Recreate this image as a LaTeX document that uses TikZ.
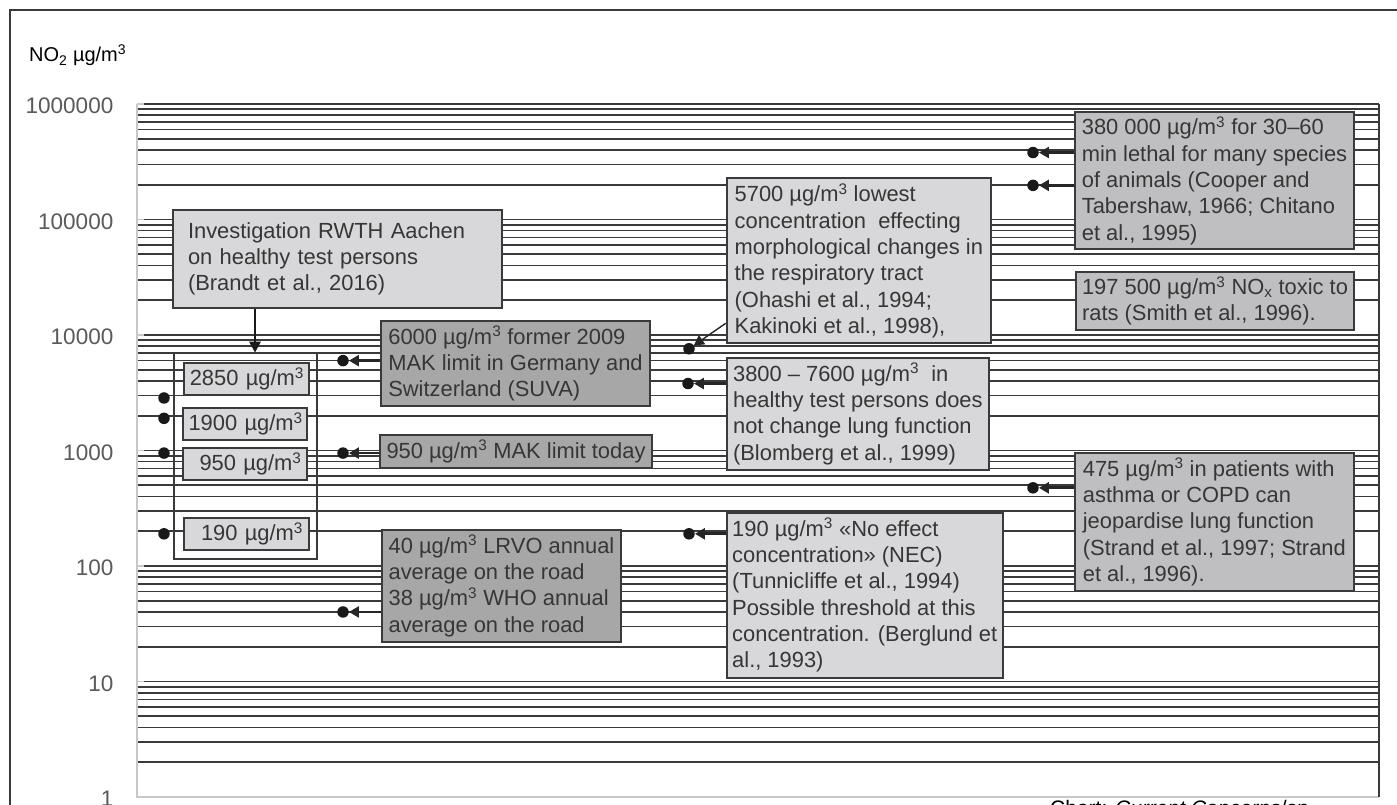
\documentclass[tikz,border=0pt]{standalone}
\usepackage{fontspec}
\setmainfont{Liberation Sans}
\usetikzlibrary{arrows.meta}
\definecolor{boxlight}{HTML}{D8D8DA}
\definecolor{boxmid}{HTML}{BFBFC1}
\definecolor{boxdark}{HTML}{A7A7A7}
\definecolor{ink}{HTML}{363636}
\definecolor{rule}{HTML}{3A3A3A}
\definecolor{axisgray}{HTML}{C8C8C8}
\definecolor{ticktext}{HTML}{5A5A5A}
\newcommand\ugm{µg/m\textsuperscript{3}}
\newcommand\boxfont{\fontsize{21.9}{26.3}\selectfont}
\newcommand\tickfont{\fontsize{22.5}{26}\selectfont}
\tikzset{
  gridrule/.style={draw=rule, line width=1.6},
  axisrule/.style={draw=axisgray, line width=1.6},
  note/.style={draw=rule, line width=2, inner sep=0, align=left, anchor=north west, text=ink, font=\boxfont},
  lightbox/.style={note, fill=boxlight},
  midbox/.style={note, fill=boxmid},
  darkbox/.style={note, fill=boxdark},
  reading/.style={lightbox, align=right},
  grouprect/.style={draw=rule, line width=1.5, inner sep=0, anchor=north west},
  dot/.style={circle, fill=black!90, inner sep=0, minimum size=11.5},
  link/.style={draw=black!85, line width=2.8, -{Triangle[length=10pt,width=11pt]}},
  feed/.style={draw=black!90, line width=2.8, -{Triangle[length=11pt,width=11pt]}},
  tick/.style={anchor=east, inner sep=0, text=ticktext, font=\tickfont, yshift=-2pt},
}
\begin{document}
\begin{tikzpicture}[x=1pt, y=-1pt, declare function={lv(\p,\q)=797-115.5*(\q+log10(\p));}]
\useasboundingbox (0,0) rectangle (1397,805);
\clip (0,0) rectangle (1397,805);
\fill[white] (0,0) rectangle (1397,805);
\draw[draw=rule, line width=2] (9.5,840) -- (9.5,10) -- (1420,10);

\foreach \e in {0,...,5}{
  \foreach \k in {2,...,9}{
    \draw[gridrule] (137,{lv(\k,\e)}) -- (1379,{lv(\k,\e)});
  }
}
\foreach \e in {1,...,6}{
  \draw[axisrule] (137,{lv(1,\e)}) -- (144,{lv(1,\e)});
  \draw[gridrule] (144,{lv(1,\e)}) -- (1379,{lv(1,\e)});
}
\draw[axisrule] (137,{lv(1,6)}) -- (137,{lv(1,0)}) -- (1379,{lv(1,0)});
\draw[gridrule] (1379,{lv(1,6)}) -- (1379,{lv(1,0)});
\foreach \e/\lab in {0/1,1/10,2/100,3/1000,4/10000,5/100000,6/1000000}
  \node[tick] (y\e) at (113.5,{lv(1,\e)}) {\lab};
\node[anchor=base west, inner sep=0, font=\fontsize{20}{23}\selectfont] (unit) at (29,62) {NO\textsubscript{2} \ugm};

\node[lightbox, minimum width=329, minimum height=98, text width=299] (inv) at (172,209)
  {Investigation RWTH Aachen\\ on healthy test persons\\ (Brandt et al., 2016)};
\node[grouprect, minimum width=143, minimum height=205.3] (cont) at (173,352.7) {};
\node[reading, minimum width=124.5, minimum height=32.6, text width=113] (v2850) at (183,361.7) {2850~\ugm};
\node[reading, minimum width=124, minimum height=32.6, text width=113] (v1900) at (182,406.7) {1900~\ugm};
\node[reading, minimum width=124, minimum height=32.3, text width=113] (v950) at (182,446.7) {950~\ugm};
\node[reading, minimum width=125, minimum height=32, text width=113] (v190) at (183,517) {190~\ugm};

\node[darkbox, minimum width=269, minimum height=85.3] (m6000) at (380,320)
  {6000 \ugm{} former 2009\\ MAK limit in Germany and\\ Switzerland (SUVA)};
\node[darkbox, minimum width=272, minimum height=32.7] (m950) at (379,434) {950 \ugm{} MAK limit today};
\node[darkbox, minimum width=239, minimum height=111.4] (m40) at (381,529.3)
  {40 \ugm{} LRVO annual\\ average on the road\\ 38 \ugm{} WHO annual\\ average on the road};

\node[lightbox, minimum width=264.3, minimum height=165] (m5700) at (725.7,177.3)
  {5700 \ugm{} lowest\\ concentration\ \ effecting\\ morphological changes in\\ the respiratory tract\\ (Ohashi et al., 1994;\\ Kakinoki et al., 1998),};
\node[lightbox, minimum width=262.3, minimum height=112.3] (m3800) at (725.7,356.7)
  {3800 – 7600 \ugm\ \ in\\ healthy test persons does\\ not change lung function\\ (Blomberg et al., 1999)};
\node[lightbox, minimum width=276, minimum height=165] (m190) at (725.7,511.7)
  {190 \ugm{} «No effect\\ concentration» (NEC)\\ (Tunnicliffe et al., 1994)\\ Possible threshold at this\\ concentration. (Berglund et\\ al., 1993)};

\node[midbox, minimum width=279, minimum height=137.3] (m380k) at (1074,111)
  {380 000 \ugm{} for 30–60\\ min lethal for many species\\ of animals (Cooper and\\ Tabershaw, 1966; Chitano\\ et al., 1995)};
\node[midbox, minimum width=278, minimum height=58.3] (m197k) at (1075,270.7)
  {197 500 \ugm{} NO\textsubscript{x} toxic to\\ rats (Smith et al., 1996).};
\node[midbox, minimum width=278.7, minimum height=138.3] (m475) at (1074,451.7)
  {475 \ugm{} in patients with\\ asthma or COPD can\\ jeopardise lung function\\ (Strand et al., 1997; Strand\\ et al., 1996).};

\foreach \m/\q/\n in {2.85/3/a,1.9/3/b,9.5/2/c,1.9/2/d}
  \node[dot] (l\n) at (164,{lv(\m,\q)}) {};
\node[dot] (d6000) at (343,{lv(6,3)}) {};
\node[dot] (d950) at (343,{lv(9.5,2)}) {};
\node[dot] (d40) at (343,{lv(4,1)}) {};
\node[dot] (d7600) at (689,{lv(7.6,3)}) {};
\node[dot] (d3800) at (688,{lv(3.8,3)}) {};
\node[dot] (d190) at (689,{lv(1.9,2)}) {};
\node[dot] (d380k) at (1033,{lv(3.8,5)}) {};
\node[dot] (d197k) at (1033,{lv(1.975,5)}) {};
\node[dot] (d475) at (1033,{lv(4.75,2)}) {};

\coordinate (drop) at (255,330);
\draw[feed] (drop |- inv.south) -- (drop |- cont.north);
\draw[link] (d6000 -| m6000.west) -- (d6000);
\draw[link] (d950 -| m950.west) -- (d950);
\draw[link] (d40 -| m40.west) -- (d40);
\draw[link, line width=1.4] ([yshift=21pt]m5700.south west) -- (d7600);
\draw[link] (d3800 -| m3800.west) -- (d3800);
\draw[link] (d190 -| m190.west) -- (d190);
\draw[link] (d380k -| m380k.west) -- (d380k);
\draw[link] (d197k -| m380k.west) -- (d197k);
\draw[link] (d475 -| m475.west) -- (d475);

\node[anchor=base west, inner sep=0, font=\fontsize{21}{25}\selectfont] (credit) at (1050,815)
  {Chart: \textit{Current Concerns}/sp};
\end{tikzpicture}
\end{document}
